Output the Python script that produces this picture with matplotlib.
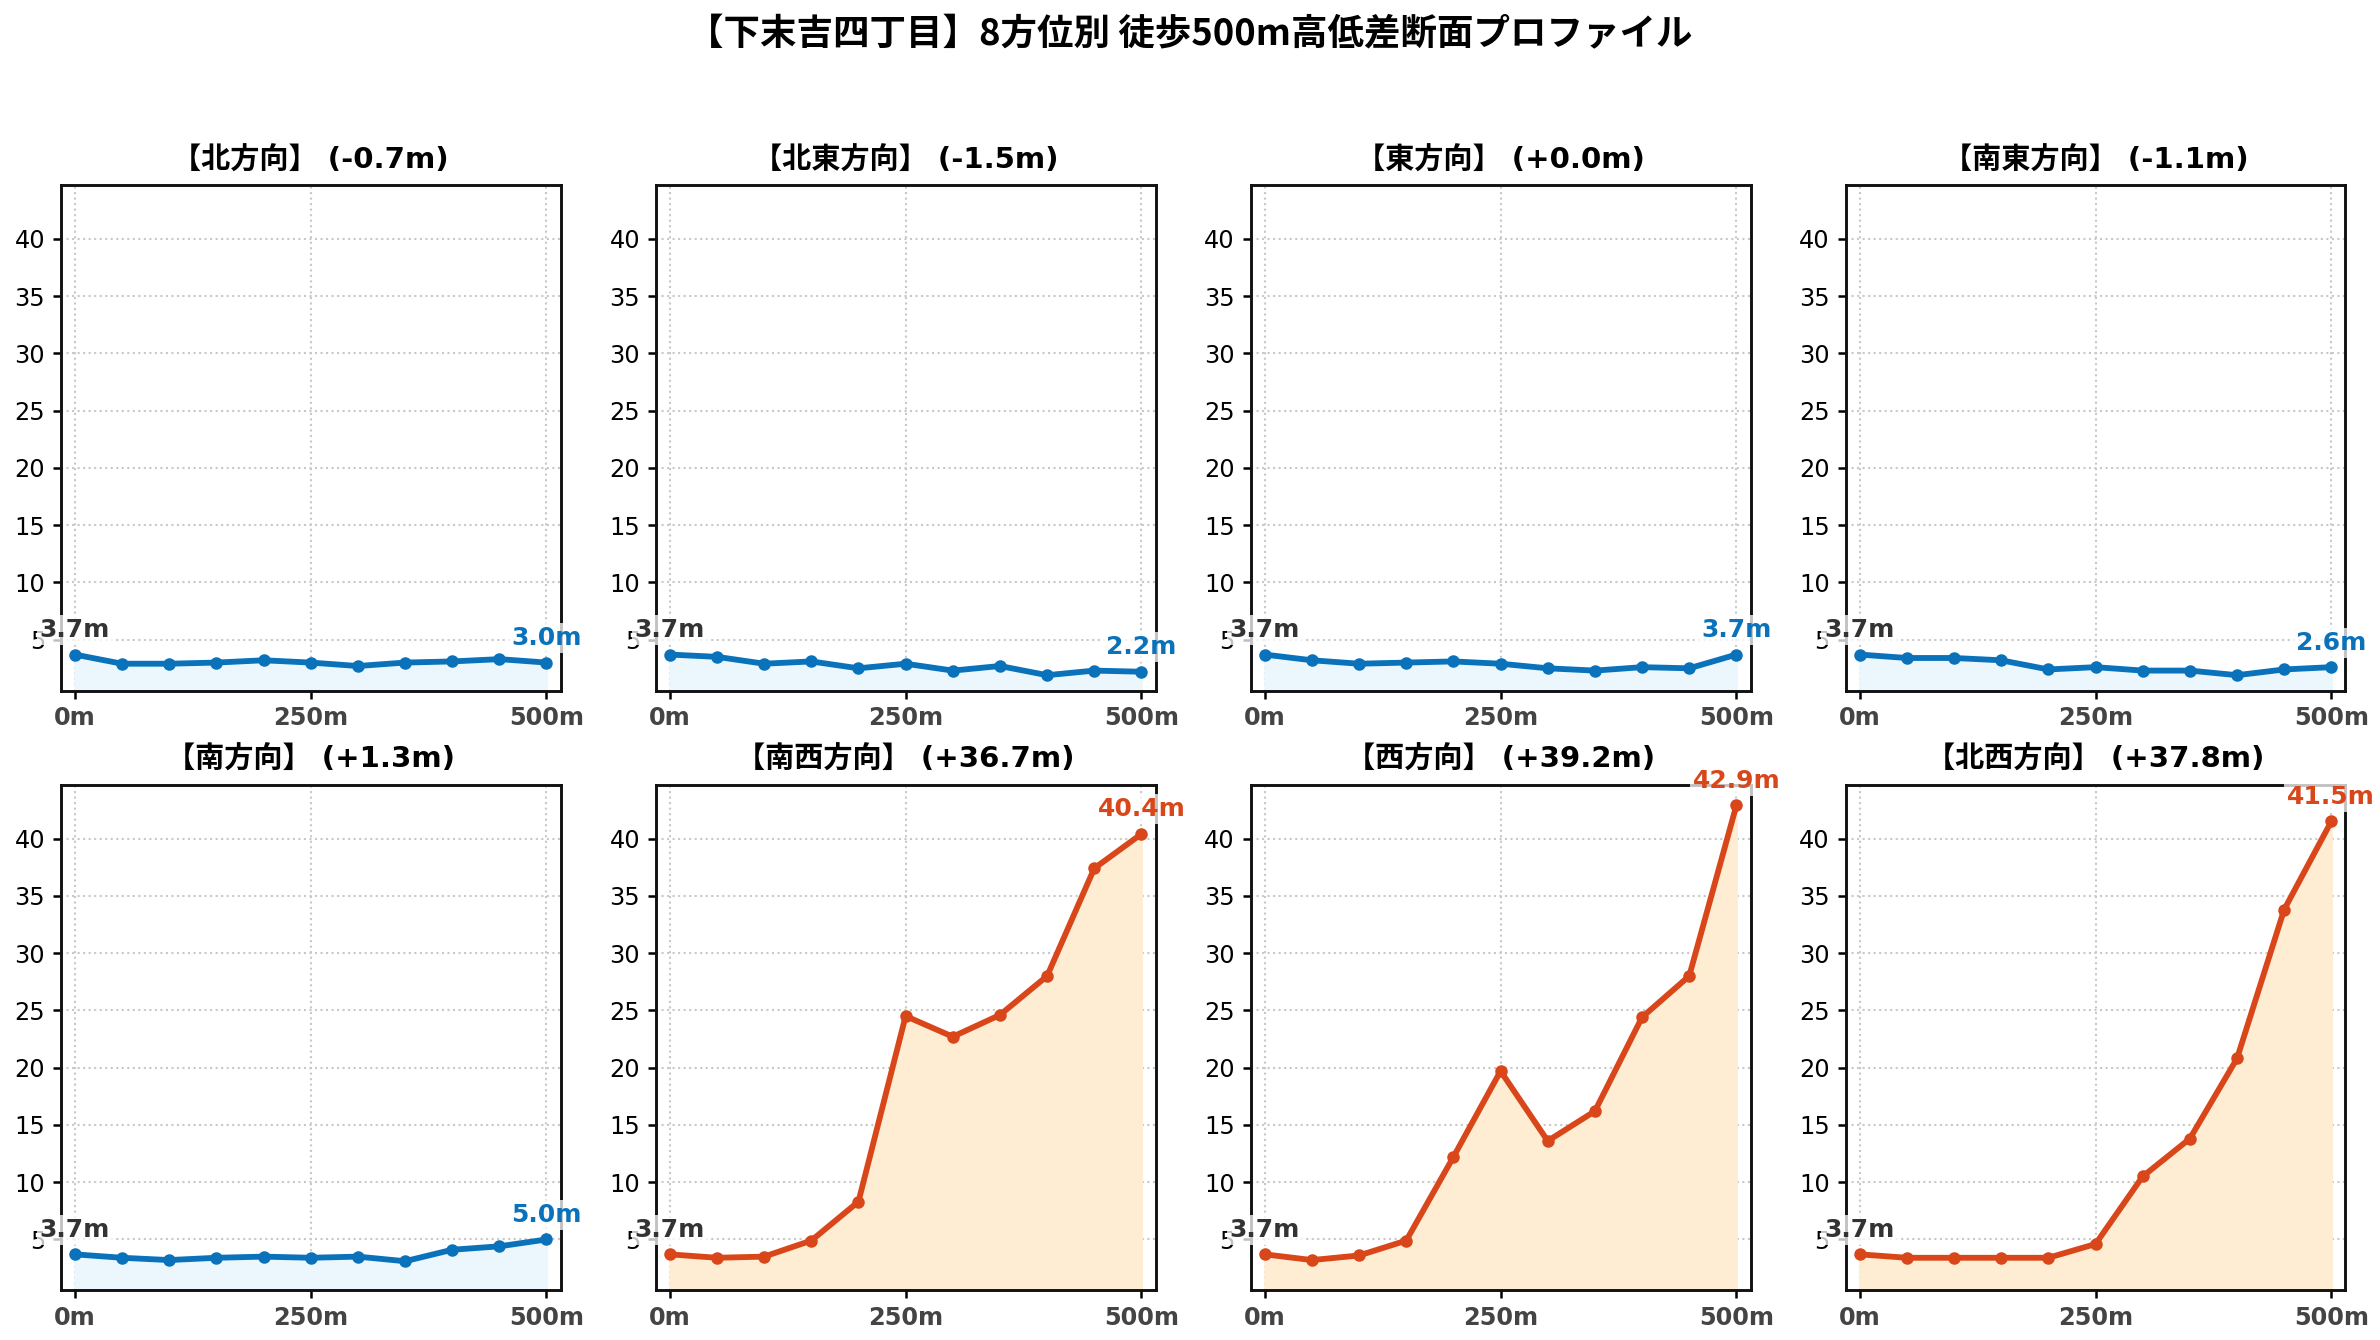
import matplotlib
matplotlib.use("Agg")
import matplotlib.pyplot as plt

plt.rcParams['font.family'] = ['DejaVu Sans', 'Noto Sans CJK JP']

distances = [0, 50, 100, 150, 200, 250, 300, 350, 400, 450, 500]
directions = ['北方向', '北東方向', '東方向', '南東方向', '南方向', '南西方向', '西方向', '北西方向']
elev_N  = [3.7, 2.9, 2.9, 3.0, 3.2, 3.0, 2.7, 3.0, 3.1, 3.3, 3.0]
elev_NE = [3.7, 3.5, 2.9, 3.1, 2.5, 2.9, 2.3, 2.7, 1.9, 2.3, 2.2]
elev_E  = [3.7, 3.2, 2.9, 3.0, 3.1, 2.9, 2.5, 2.3, 2.6, 2.5, 3.7]
elev_SE = [3.7, 3.4, 3.4, 3.2, 2.4, 2.6, 2.3, 2.3, 1.9, 2.4, 2.6]
elev_S  = [3.7, 3.4, 3.2, 3.4, 3.5, 3.4, 3.5, 3.1, 4.1, 4.4, 5.0]
elev_SW = [3.7, 3.4, 3.5, 4.9, 8.3, 24.5, 22.7, 24.6, 28.0, 37.4, 40.4]
elev_W  = [3.7, 3.2, 3.6, 4.9, 12.2, 19.7, 13.6, 16.2, 24.4, 28.0, 42.9]
elev_NW = [3.7, 3.4, 3.4, 3.4, 3.4, 4.6, 10.5, 13.8, 20.8, 33.8, 41.5]
series = [elev_N, elev_NE, elev_E, elev_SE, elev_S, elev_SW, elev_W, elev_NW]
x_ticks = [0, 250, 500]
x_ticklabels = ['0m', '250m', '500m']
y_ticks = [5, 10, 15, 20, 25, 30, 35, 40]

BLUE, BLUE_FILL = '#0A72BA', '#EBF7FD'
ORANGE, ORANGE_FILL = '#D9461A', '#FEEDD3'
Y_MIN, Y_MAX = 0.55, 44.7

fig, axes = plt.subplots(2, 4, figsize=(2380/150, 1340/150), dpi=150)
fig.subplots_adjust(left=0.0255, right=0.9855, top=0.862, bottom=0.037,
                    wspace=0.19, hspace=0.186)

for ax, name, ys in zip(axes.flat, directions, series):
    diff = ys[-1] - ys[0]
    up = diff >= 10
    lc = ORANGE if up else BLUE
    fc = ORANGE_FILL if up else BLUE_FILL
    ax.fill_between(distances, ys, Y_MIN, color=fc, zorder=1)
    ax.plot(distances, ys, color=lc, lw=2.8, marker='o', ms=5, zorder=3)
    ax.set_xlim(-15, 515)
    ax.set_ylim(Y_MIN, Y_MAX)
    ax.set_xticks(x_ticks)
    ax.set_xticklabels(x_ticklabels, fontweight='bold', color='#444444', fontsize=11.5)
    ax.set_yticks(y_ticks)
    ax.tick_params(axis='y', labelsize=11.5, width=1.2, length=4)
    ax.tick_params(axis='x', width=1.2, length=4)
    ax.grid(True, linestyle=':', color='#C8C8C8', linewidth=1.0)
    ax.set_axisbelow(True)
    for sp in ax.spines.values():
        sp.set_linewidth(1.4)
        sp.set_color('#111111')
    ax.set_title(f'【{name}】 ({diff:+.1f}m)', fontsize=14, fontweight='bold', pad=8)
    ax.annotate(f'{ys[0]:.1f}m', xy=(distances[0], ys[0]), xytext=(0, 6),
                textcoords='offset points', ha='center', va='bottom',
                fontsize=12, fontweight='bold', color='#333333', zorder=5,
                bbox=dict(boxstyle='square,pad=0.12', fc='white', ec='none', alpha=0.75),
                annotation_clip=False)
    ax.annotate(f'{ys[-1]:.1f}m', xy=(distances[-1], ys[-1]), xytext=(0, 6),
                textcoords='offset points', ha='center', va='bottom',
                fontsize=12, fontweight='bold', color=lc, zorder=5,
                bbox=dict(boxstyle='square,pad=0.12', fc='white', ec='none', alpha=0.75),
                annotation_clip=False)

fig.suptitle('【下末吉四丁目】8方位別 徒歩500m高低差断面プロファイル', fontsize=17.5,
             fontweight='bold', y=0.988, family=['Noto Sans CJK JP', 'DejaVu Sans'])

fig.savefig('out.png', dpi=150)
